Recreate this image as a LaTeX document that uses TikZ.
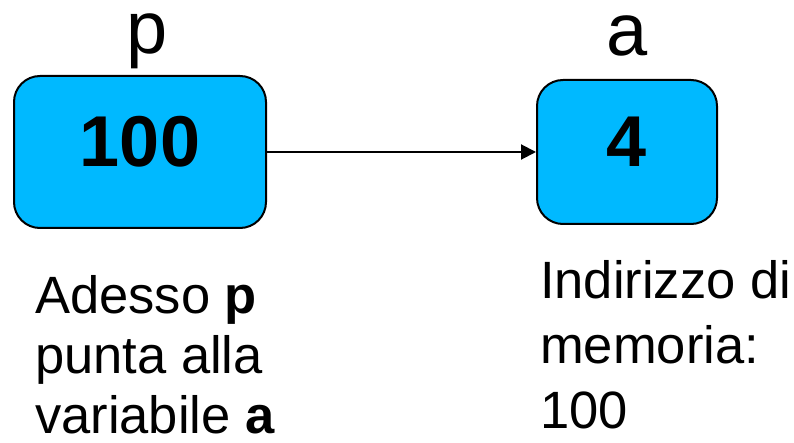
\documentclass[tikz,border=0pt]{standalone}
\usepackage{fontspec}
\setmainfont{Liberation Sans}
\usetikzlibrary{arrows.meta}
\definecolor{boxblue}{RGB}{0,185,255}
\tikzset{
  cell/.style={draw=black, line width=2pt, fill=boxblue, rounded corners=26pt, inner sep=0pt},
  big/.style={font=\fontsize{74}{80}\selectfont, inner sep=0pt},
  val/.style={font=\fontsize{72}{80}\selectfont\bfseries, inner sep=0pt, anchor=base},
  note/.style={align=left, inner sep=0pt, anchor=base west},
  ptr/.style={line width=2pt, -{Triangle[length=15pt,width=15pt]}}
}
\begin{document}
\begin{tikzpicture}[x=1pt,y=-1pt]
\useasboundingbox (0,0) rectangle (794,443);
\node[cell, minimum width=252pt, minimum height=152pt] (p) at (140,152) {};
\node[cell, minimum width=180pt, minimum height=144pt] (a) at (627,152) {};
\node[val] (pv) at (140,167) {100};
\node[val] (av) at (627,167) {4};
\node[big, anchor=base] (pl) at (147,54) {p};
\node[big, anchor=base] (al) at (627,56) {a};
\draw[ptr] (p.east) -- (a.west);
\node[note, font=\fontsize{52.5}{60}\selectfont] (n1) at (35,433) {Adesso \textbf{p}\\punta alla\\variabile \textbf{a}};
\node[note, font=\fontsize{52.5}{65}\selectfont] (n2) at (540,428) {Indirizzo di\\memoria:\\100};
\end{tikzpicture}
\end{document}
